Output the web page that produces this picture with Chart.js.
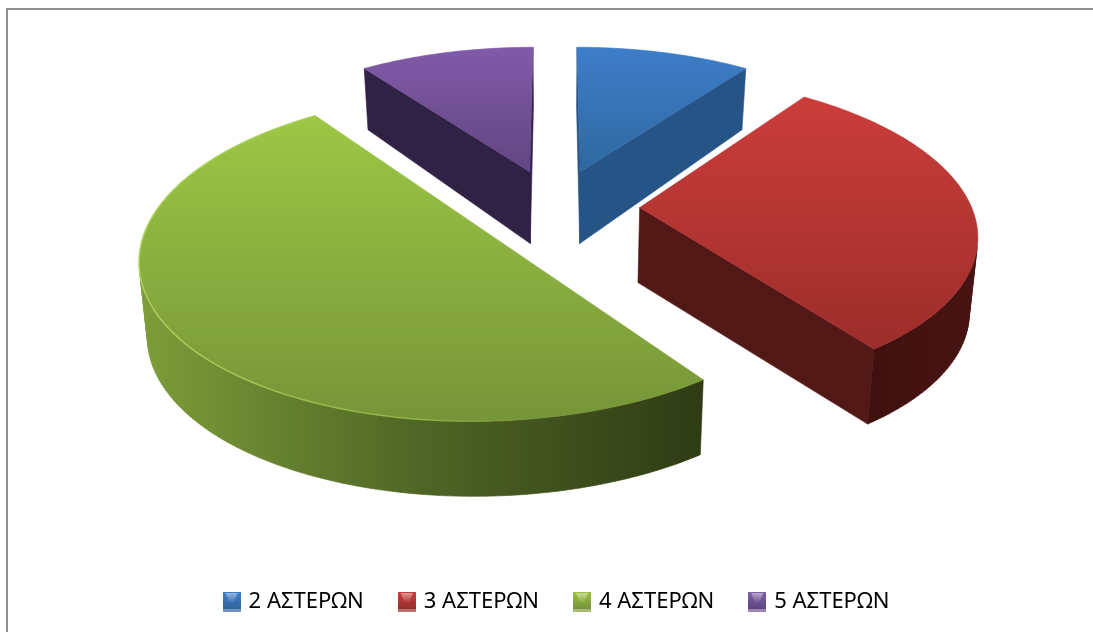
<!DOCTYPE html>
<html>
<head>
<meta charset="utf-8">
<title>Ξενοδοχεία ανά κατηγορία</title>
<script src="https://cdn.jsdelivr.net/npm/chart.js@4"></script>
<style>
  html, body { margin: 0; padding: 0; background: #fff; overflow: hidden; }
  #frame { position: absolute; left: 6px; top: 8px; right: 0; bottom: 0;
           border-left: 2px solid #8e8e8e; border-top: 2px solid #8e8e8e; }
  #stars { position: absolute; left: 0; top: 0; }
</style>
</head>
<body>
<div id="frame"></div>
<canvas id="stars" width="1093" height="632"></canvas>
<script>
// Share of hotels per star category
const categories = ['2 ΑΣΤΕΡΩΝ', '3 ΑΣΤΕΡΩΝ', '4 ΑΣΤΕΡΩΝ', '5 ΑΣΤΕΡΩΝ'];
const shares = [10, 30, 50, 10];

// top face [light, dark], radial wall, outer wall [left, mid, right]
const topColors = [['#3e7dca', '#2f689f'], ['#cb3d3b', '#9c2d2a'], ['#9dc745', '#769538'], ['#805ba8', '#624582']];
const wallColors = ['#265487', '#511815', '#3a4a1a', '#2f2245'];
const rimColors = [['#2a5c94', '#2a5c94', '#2a5c94'], ['#441110', '#3c0e0d', '#471413'],
  ['#7d9e39', '#4f6525', '#2f3b14'], ['#3a2a55', '#3a2a55', '#3a2a55']];
const legendColors = [['#3f7fcb', '#2f649c', '#6f93bd'], ['#c9403d', '#96302d', '#b86f6d'],
  ['#9bc243', '#76933a', '#a6bc75'], ['#8060a8', '#5f4580', '#9a86b2']];

// Tilted disc seen in perspective
const view = { cx: 555, cy: 207.6, a: 332, b: 153.4, k: 0.152, depth: 75 };

function project(u, v, h) {
  const w = 1 - view.k * v;
  const drop = view.depth + 13 * Math.min(v, 0);
  return {
    x: view.cx + view.a * u / w * (1 - 0.02 * h),
    y: view.cy + view.b * v / w + drop * h
  };
}

function tracePoly(ctx, pts) {
  ctx.moveTo(pts[0].x, pts[0].y);
  for (let i = 1; i < pts.length; i++) ctx.lineTo(pts[i].x, pts[i].y);
  ctx.closePath();
}

function signedArea(pts) {
  let s = 0;
  for (let i = 0; i < pts.length; i++) {
    const p = pts[i], q = pts[(i + 1) % pts.length];
    s += p.x * q.y - q.x * p.y;
  }
  return s;
}

// Wall between two rim points, null when it faces away from the viewer
function wallQuad(p, q) {
  const quad = [project(p.u, p.v, 0), project(q.u, q.v, 0), project(q.u, q.v, 1), project(p.u, p.v, 1)];
  return signedArea(quad) < 0 ? quad : null;
}

function drawSlice(ctx, arc, i) {
  const explode = arc.options.offset / arc.outerRadius;
  const mid = (arc.startAngle + arc.endAngle) / 2;
  const ox = Math.cos(mid) * explode, oy = Math.sin(mid) * explode;
  const apex = { u: ox, v: oy };

  const rim = [];
  const steps = Math.ceil((arc.endAngle - arc.startAngle) / 0.02);
  for (let s = 0; s <= steps; s++) {
    const t = arc.startAngle + (arc.endAngle - arc.startAngle) * s / steps;
    rim.push({ u: ox + Math.cos(t), v: oy + Math.sin(t) });
  }

  // radial walls
  ctx.fillStyle = wallColors[i];
  ctx.strokeStyle = wallColors[i];
  ctx.lineWidth = 0.6;
  ctx.beginPath();
  [wallQuad(apex, rim[0]), wallQuad(rim[rim.length - 1], apex)].forEach(q => { if (q) tracePoly(ctx, q); });
  ctx.fill();
  ctx.stroke();

  // curved outer wall
  const topPts = [apex].concat(rim).map(p => project(p.u, p.v, 0));
  const xs = topPts.map(p => p.x), ys = topPts.map(p => p.y);
  const left = Math.min(...xs), right = Math.max(...xs);
  const side = ctx.createLinearGradient(left, 0, right, 0);
  rimColors[i].forEach((c, n) => side.addColorStop(n / 2, c));
  ctx.fillStyle = side;
  ctx.strokeStyle = side;
  ctx.beginPath();
  for (let s = 0; s < rim.length - 1; s++) {
    const q = wallQuad(rim[s], rim[s + 1]);
    if (q) tracePoly(ctx, q);
  }
  ctx.fill();
  ctx.stroke();

  // top face
  const face = ctx.createLinearGradient(0, Math.min(...ys), 0, Math.max(...ys));
  face.addColorStop(0, topColors[i][0]);
  face.addColorStop(1, topColors[i][1]);
  ctx.fillStyle = face;
  ctx.strokeStyle = face;
  ctx.beginPath();
  tracePoly(ctx, topPts);
  ctx.fill();
  ctx.stroke();

  // thin light edge along the front of the green slice
  if (i === 2) {
    const edge = ctx.createLinearGradient(left, 0, right, 0);
    edge.addColorStop(0, 'rgba(176,214,92,0.9)');
    edge.addColorStop(0.5, 'rgba(160,200,80,0.6)');
    edge.addColorStop(0.7, 'rgba(160,200,80,0)');
    ctx.strokeStyle = edge;
    ctx.lineWidth = 1.5;
    ctx.beginPath();
    rim.forEach((p, n) => {
      const s = project(p.u, p.v, 0);
      if (n === 0) ctx.moveTo(s.x, s.y); else ctx.lineTo(s.x, s.y);
    });
    ctx.stroke();
  }
}

const pie3d = {
  id: 'pie3d',
  beforeDatasetsDraw(chart) {
    const ctx = chart.ctx;
    const arcs = chart.getDatasetMeta(0).data;
    const order = arcs.map((arc, i) => i).sort((p, q) => {
      const mp = (arcs[p].startAngle + arcs[p].endAngle) / 2;
      const mq = (arcs[q].startAngle + arcs[q].endAngle) / 2;
      return Math.sin(mp) - Math.sin(mq);
    });
    ctx.save();
    order.forEach(i => drawSlice(ctx, arcs[i], i));
    ctx.restore();
    return false; // flat arcs are replaced by the solid slices
  }
};

// Small bevelled legend keys
function legendKey(c) {
  const key = document.createElement('canvas');
  key.width = 18;
  key.height = 20;
  const g = key.getContext('2d');
  const fill = g.createLinearGradient(0, 0, 0, 17);
  fill.addColorStop(0, c[0]);
  fill.addColorStop(1, c[1]);
  g.fillStyle = fill;
  g.fillRect(0, 0, 18, 17);
  g.fillStyle = c[2];
  g.fillRect(0, 17, 18, 3);
  const glow = g.createLinearGradient(0, 1, 0, 11);
  glow.addColorStop(0, 'rgba(255,255,255,0.45)');
  glow.addColorStop(1, 'rgba(255,255,255,0)');
  g.fillStyle = glow;
  g.beginPath();
  g.moveTo(3, 1);
  g.lineTo(15, 1);
  g.lineTo(11, 11);
  g.lineTo(7, 11);
  g.closePath();
  g.fill();
  return key;
}

new Chart(document.getElementById('stars'), {
  type: 'pie',
  data: {
    labels: categories,
    datasets: [{
      data: shares,
      backgroundColor: topColors.map(c => c[0]),
      borderWidth: 0,
      offset: 51,
      radius: 200
    }]
  },
  options: {
    responsive: false,
    animation: false,
    layout: { padding: { left: 22, bottom: 9 } },
    plugins: {
      tooltip: { enabled: false },
      legend: {
        position: 'bottom',
        labels: {
          color: '#000',
          font: { family: '"Noto Sans"', size: 22 },
          usePointStyle: true,
          pointStyleWidth: 12,
          padding: 37,
          generateLabels: chart => chart.data.labels.map((text, i) => ({
            text,
            index: i,
            fontColor: '#000',
            pointStyle: legendKey(legendColors[i]),
            lineWidth: 0,
            hidden: false
          }))
        }
      }
    }
  },
  plugins: [pie3d]
});
</script>
</body>
</html>
